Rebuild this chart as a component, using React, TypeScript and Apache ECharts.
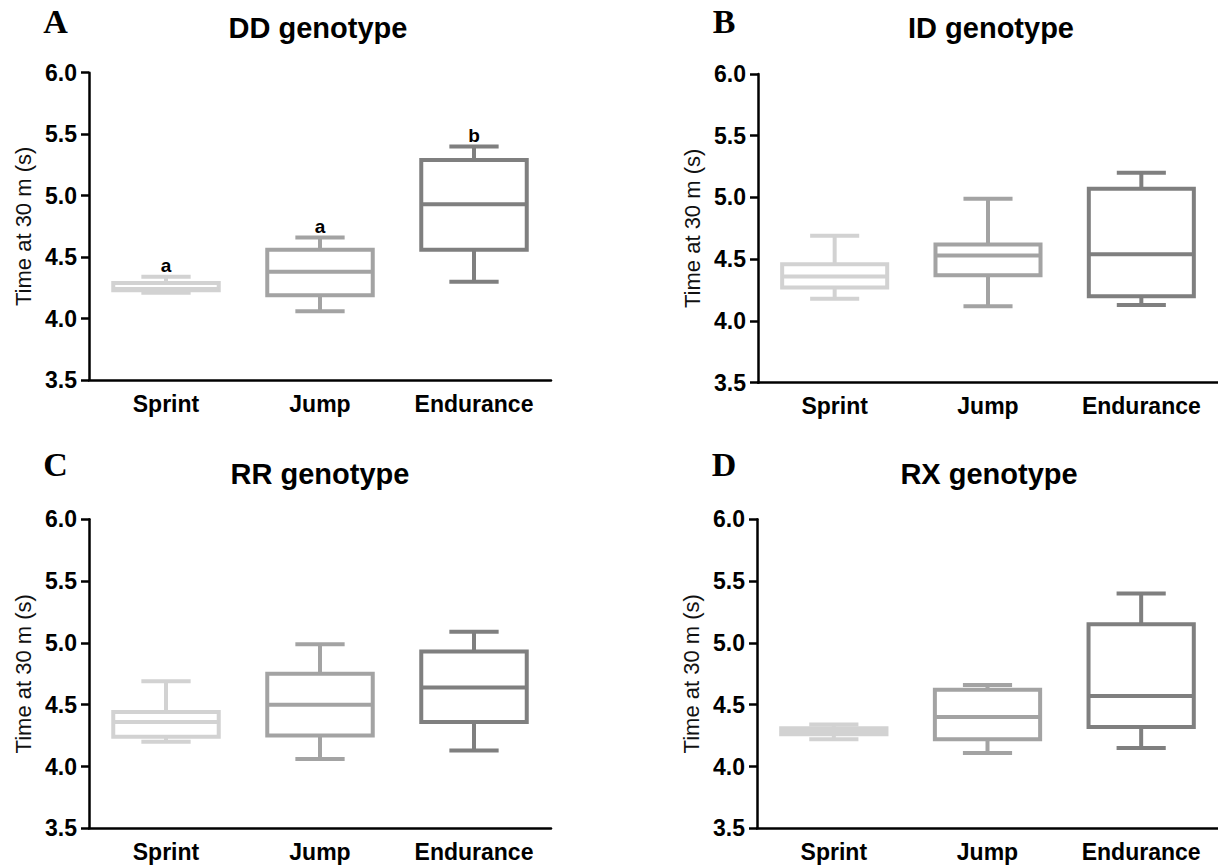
import React, { useEffect, useRef } from "react";
import * as echarts from "echarts";

// ---- Data (five-number summaries: [min, Q1, median, Q3, max]) ----
const categories = ["Sprint", "Jump", "Endurance"];

const ddSprint = [4.21, 4.23, 4.24, 4.29, 4.34];
const ddJump = [4.06, 4.19, 4.38, 4.56, 4.66];
const ddEndurance = [4.3, 4.56, 4.93, 5.29, 5.4];
const ddLetters = ["a", "a", "b"];

const idSprint = [4.18, 4.27, 4.36, 4.46, 4.69];
const idJump = [4.12, 4.37, 4.53, 4.62, 4.99];
const idEndurance = [4.13, 4.2, 4.54, 5.07, 5.2];

const rrSprint = [4.2, 4.24, 4.36, 4.44, 4.69];
const rrJump = [4.06, 4.25, 4.5, 4.75, 4.99];
const rrEndurance = [4.13, 4.36, 4.64, 4.93, 5.09];

const rxSprint = [4.22, 4.26, 4.28, 4.31, 4.34];
const rxJump = [4.11, 4.22, 4.4, 4.62, 4.66];
const rxEndurance = [4.15, 4.32, 4.57, 5.15, 5.4];

const yMin = 3.5;
const yMax = 6.0;
const yStep = 0.5;

const panelLetters = ["A", "B", "C", "D"];
const panelTitles = ["DD genotype", "ID genotype", "RR genotype", "RX genotype"];
const yAxisTitle = "Time at 30 m (s)";

// ---- Styles ----
const boxColors = ["#d2d2d2", "#a3a3a3", "#7f7f7f"];
const SANS = "'Liberation Sans', Arial, Helvetica, sans-serif";
const SERIF = "'Liberation Serif', 'Times New Roman', serif";

const layouts = [
  { left: 89, top: 72.7, width: 462, height: 307.3, titleX: 318, titleY: 28, letterX: 55.5, letterY: 21 },
  { left: 758, top: 74, width: 464, height: 308.7, titleX: 991, titleY: 28, letterX: 724, letterY: 21 },
  { left: 89, top: 519.3, width: 462, height: 309, titleX: 320, titleY: 474, letterX: 55.5, letterY: 464 },
  { left: 757, top: 519.3, width: 464, height: 309, titleX: 989, titleY: 474, letterX: 724, letterY: 464 },
];

const panelStats = [
  [ddSprint, ddJump, ddEndurance],
  [idSprint, idJump, idEndurance],
  [rrSprint, rrJump, rrEndurance],
  [rxSprint, rxJump, rxEndurance],
];
const panelAnnotations = [ddLetters, null, null, null];

function makeRenderItem(letters: string[] | null) {
  return (params: any, api: any) => {
    const cat = api.value(0);
    const mn = api.value(1);
    const q1 = api.value(2);
    const md = api.value(3);
    const q3 = api.value(4);
    const mx = api.value(5);
    const band = api.size([1, 0])[0];
    const bw = band * 0.685;
    const cw = band * 0.32;
    const pMin = api.coord([cat, mn]);
    const pQ1 = api.coord([cat, q1]);
    const pMd = api.coord([cat, md]);
    const pQ3 = api.coord([cat, q3]);
    const pMax = api.coord([cat, mx]);
    const x = pMin[0];
    const color = boxColors[cat];
    const lw = 4;
    const lineStyle = { stroke: color, lineWidth: lw, lineCap: "butt" };
    const children: any[] = [
      { type: "line", shape: { x1: x, y1: pQ3[1], x2: x, y2: pMax[1] }, style: lineStyle },
      { type: "line", shape: { x1: x, y1: pQ1[1], x2: x, y2: pMin[1] }, style: lineStyle },
      { type: "line", shape: { x1: x - cw / 2, y1: pMax[1], x2: x + cw / 2, y2: pMax[1] }, style: lineStyle },
      { type: "line", shape: { x1: x - cw / 2, y1: pMin[1], x2: x + cw / 2, y2: pMin[1] }, style: lineStyle },
      {
        type: "rect",
        shape: { x: x - bw / 2, y: pQ3[1], width: bw, height: pQ1[1] - pQ3[1] },
        style: { fill: "none", stroke: color, lineWidth: lw },
      },
      { type: "line", shape: { x1: x - bw / 2, y1: pMd[1], x2: x + bw / 2, y2: pMd[1] }, style: lineStyle },
    ];
    if (letters && letters[cat]) {
      children.push({
        type: "text",
        x: x,
        y: pMax[1] - 11,
        style: {
          text: letters[cat],
          font: `bold 19px ${SANS}`,
          fill: "#000",
          align: "center",
          verticalAlign: "middle",
          textAlign: "center",
          textVerticalAlign: "middle",
        },
      });
    }
    return { type: "group", children };
  };
}

export default function App() {
  const ref = useRef<HTMLDivElement>(null);
  useEffect(() => {
    if (!ref.current) return;
    const chart = echarts.init(ref.current, undefined, { renderer: "svg" });

    const grid = layouts.map((l) => ({ left: l.left, top: l.top, width: l.width, height: l.height, containLabel: false }));
    const xAxis = layouts.map((_, i) => ({
      type: "category",
      gridIndex: i,
      data: categories,
      boundaryGap: true,
      axisLine: { lineStyle: { color: "#000", width: 2.5 } },
      axisTick: { alignWithLabel: true, length: 8, lineStyle: { color: "#000", width: 2.5 } },
      axisLabel: { color: "#000", fontFamily: SANS, fontWeight: "bold", fontSize: 23, margin: 12, interval: 0 },
      splitLine: { show: false },
    }));
    const yAxis = layouts.map((_, i) => ({
      type: "value",
      gridIndex: i,
      min: yMin,
      max: yMax,
      interval: yStep,
      name: yAxisTitle,
      nameLocation: "middle",
      nameGap: 55,
      nameTextStyle: { color: "#111", fontFamily: SANS, fontSize: 22 },
      axisLine: { show: true, lineStyle: { color: "#000", width: 2.5 } },
      axisTick: { show: true, length: 8, lineStyle: { color: "#000", width: 2.5 } },
      axisLabel: {
        color: "#000",
        fontFamily: SANS,
        fontWeight: "bold",
        fontSize: 23,
        margin: 12,
        formatter: (v: number) => v.toFixed(1),
      },
      splitLine: { show: false },
    }));
    const series = panelStats.map((stats, i) => ({
      type: "custom",
      xAxisIndex: i,
      yAxisIndex: i,
      clip: false,
      encode: { x: 0, y: [1, 2, 3, 4, 5] },
      data: stats.map((s, c) => [c, ...s]),
      renderItem: makeRenderItem(panelAnnotations[i]),
    }));

    const graphic: any[] = [];
    layouts.forEach((l, i) => {
      graphic.push({
        type: "text",
        x: l.titleX,
        y: l.titleY,
        style: {
          text: panelTitles[i],
          font: `bold 29px ${SANS}`,
          fill: "#000",
          align: "center",
          verticalAlign: "middle",
          textAlign: "center",
          textVerticalAlign: "middle",
        },
      });
      graphic.push({
        type: "text",
        x: l.letterX,
        y: l.letterY,
        style: {
          text: panelLetters[i],
          font: `bold 34px ${SERIF}`,
          fill: "#000",
          align: "center",
          verticalAlign: "middle",
          textAlign: "center",
          textVerticalAlign: "middle",
        },
      });
    });

    chart.setOption({
      animation: false,
      backgroundColor: "#fff",
      grid,
      xAxis,
      yAxis,
      series,
      graphic,
    });
    return () => chart.dispose();
  }, []);
  return (
    <div
      ref={ref}
      style={{ position: "fixed", left: 0, top: 0, width: 1218, height: 867, background: "#fff" }}
    />
  );
}
